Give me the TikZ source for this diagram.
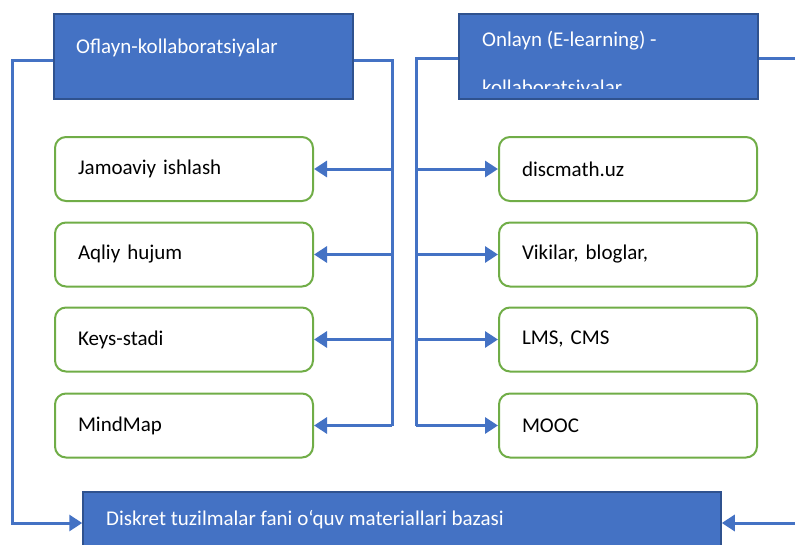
\documentclass[tikz,border=0pt]{standalone}
\usepackage{fontspec}
\setmainfont{Carlito}
\usetikzlibrary{arrows.meta}
\definecolor{boxblue}{HTML}{4472C4}
\definecolor{boxedge}{HTML}{2F528F}
\definecolor{leafgreen}{HTML}{70AD47}

\begin{document}
\begin{tikzpicture}[x=1pt, y=-1pt,
    every node/.style={font=\fontsize{21}{25}\selectfont},
    head/.style={draw=boxedge, fill=boxblue, line width=1.5pt,
      minimum width=299pt, minimum height=85pt, inner sep=0pt},
    leaf/.style={draw=leafgreen, line width=2pt, rounded corners=11pt,
      minimum width=258pt, minimum height=64pt, inner sep=0pt,
      text width=212pt, align=left},
    caption/.style={anchor=base west, text=white, inner sep=0pt},
    link/.style={draw=boxblue, line width=3pt},
    tip/.style={link, -{Triangle[width=16pt,length=13pt]}}]
    \useasboundingbox (0,0) rectangle (795,544);
    % header boxes
    \node[head] (off) at (203.5,56.5) {};
    \node[caption] (offtxt) at (76,53) {Oflayn-kollaboratsiyalar};
    \node[head] (on) at (608.5,56.5) {};
    \begin{scope}
      \clip (460,15) rectangle (757,88);
      \node[caption, anchor=north west, align=left,
        font=\fontsize{21}{48}\selectfont]
        (ontxt) at (482,31) {Onlayn (E-learning) -\\kollaboratsiyalar};
    \end{scope}
    % left column
    \node[leaf] (j1) at (184,169) {Jamoaviy ishlash};
    \node[leaf] (j2) at (184,254.5) {Aqliy hujum};
    \node[leaf] (j3) at (184,339.5) {Keys-stadi};
    \node[leaf] (j4) at (184,425.5) {MindMap};
    % right column
    \node[leaf] (e1) at (628,169) {discmath.uz};
    \node[leaf] (e2) at (628,254.5) {Vikilar, bloglar,};
    \node[leaf] (e3) at (628,339.5) {LMS, CMS};
    \node[leaf] (e4) at (628,425.5) {MOOC};
    % base box
    \node[head, minimum width=638pt, minimum height=62pt] (base) at (402,523) {};
    \node[caption, anchor=west] (basetxt) at (106,520)
      {Diskret tuzilmalar fani o‘quv materiallari bazasi};
    % trunks
    \coordinate (lt) at (392,60);
    \coordinate (rt) at (416,58);
    \coordinate (lo) at (12,60);
    \coordinate (ro) at (805,58);
    \coordinate (rb) at (805,523);
    \draw[link] ([yshift=-3.5pt]off.east) -- (lt) -- (lt |- j4.east);
    \draw[link] ([yshift=-1.5pt]on.west) -- (rt) -- (rt |- e4.east);
    \draw[link] ([yshift=-1.5pt]on.east) -- (ro);
    \draw[tip] ([yshift=-3.5pt]off.west) -- (lo) |- (base.west);
    \draw[tip] (rb) -- (base.east);
    % branches
    \foreach \n in {1,...,4} {
      \draw[tip] (lt |- j\n.east) -- (j\n.east);
      \draw[tip] (rt |- e\n.west) -- (e\n.west);
    }
\end{tikzpicture}
\end{document}
